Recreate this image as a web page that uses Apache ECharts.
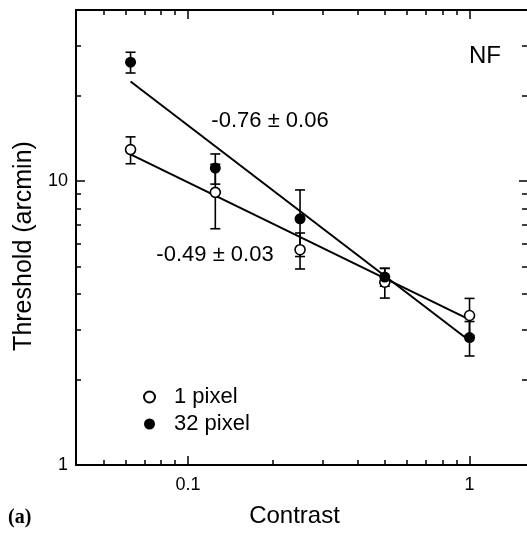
<!DOCTYPE html>
<html>
<head>
<meta charset="utf-8">
<script src="https://cdn.jsdelivr.net/npm/echarts@6/dist/echarts.min.js"></script>
<style>
  html, body { margin: 0; padding: 0; background: #fff; }
  #chart { width: 527px; height: 533px; }
</style>
</head>
<body>
<div id="chart"></div>
<script>
// data
const contrast = [0.0625, 0.125, 0.25, 0.5, 1];
const thrOpen = [12.9, 9.12, 5.73, 4.40, 3.36];     // 1 pixel
const errOpen = [1.4, 2.33, 0.83, 0.53, 0.5];
const thrFilled = [26.2, 11.1, 7.36, 4.59, 2.81];   // 32 pixel
const errFilled = [2.2, 1.35, 1.94, 0.33, 0.39];

// fitted power-law lines (end points)
const fitContrast = [0.0625, 1];
const fitOpen = [12.4, 3.25];
const fitFilled = [22.4, 2.74];

// axis ticks
const xRange = [0.04, 1.6];
const yRange = [1, 40];
const xMajor = [0.1, 1];
const xMinor = [0.05, 0.06, 0.07, 0.08, 0.09, 0.2, 0.3, 0.4, 0.5, 0.6, 0.7, 0.8, 0.9];
const yMajor = [1, 10];
const yMinor = [2, 3, 4, 5, 6, 7, 8, 9, 20, 30];

const FONT = "'Liberation Sans', Arial, Helvetica, sans-serif";
const lg = Math.log10;

// tick-only axes work in log10 space, same extent as the log data axes
function tickAxis(pos, range, vals, len, opts) {
  const a = {
    type: "value",
    position: pos,
    min: lg(range[0]),
    max: lg(range[1]),
    axisLine: { show: !!opts.line, onZero: false, lineStyle: { color: "#000", width: 2 } },
    axisTick: { show: true, inside: true, length: len, customValues: vals.map(lg),
                lineStyle: { color: "#000", width: 1.5 } },
    axisLabel: { show: false },
    splitLine: { show: false }
  };
  if (opts.labels) {
    a.axisLabel = {
      show: true,
      customValues: vals.map(lg),
      margin: opts.margin,
      color: "#000",
      fontSize: 18,
      fontFamily: FONT,
      formatter: v => String(+Math.pow(10, v).toPrecision(3))
    };
  }
  if (opts.name) Object.assign(a, opts.name);
  return a;
}

function errData(y, e) {
  return contrast.map((c, i) => [c, y[i] - e[i], y[i] + e[i]]);
}

function renderErr(params, api) {
  const x = api.value(0);
  const p1 = api.coord([x, api.value(2)]);
  const p2 = api.coord([x, api.value(1)]);
  const w = 5;
  const style = { stroke: "#000", lineWidth: 1.6 };
  return {
    type: "group",
    children: [
      { type: "line", shape: { x1: p1[0], y1: p1[1], x2: p2[0], y2: p2[1] }, style },
      { type: "line", shape: { x1: p1[0] - w, y1: p1[1], x2: p1[0] + w, y2: p1[1] }, style },
      { type: "line", shape: { x1: p2[0] - w, y1: p2[1], x2: p2[0] + w, y2: p2[1] }, style }
    ]
  };
}

const chart = echarts.init(document.getElementById("chart"));

const option = {
  animation: false,
  backgroundColor: "#fff",
  grid: { left: 76, top: 10, width: 452, height: 456 },
  xAxis: [
    { type: "log", min: xRange[0], max: xRange[1], show: false },
    tickAxis("bottom", xRange, xMajor, 9, {
      line: true, labels: true, margin: 11,
      name: {
        name: "Contrast", nameLocation: "middle", nameGap: 39,
        nameTextStyle: { fontSize: 24, fontFamily: FONT, color: "#000", padding: [0, 14, 0, 0] }
      }
    }),
    tickAxis("bottom", xRange, xMinor, 5, {}),
    tickAxis("top", xRange, xMajor, 9, { line: true }),
    tickAxis("top", xRange, xMinor, 5, {})
  ],
  yAxis: [
    { type: "log", min: yRange[0], max: yRange[1], show: false },
    tickAxis("left", yRange, yMajor, 9, {
      line: true, labels: true, margin: 8,
      name: {
        name: "Threshold (arcmin)", nameLocation: "middle", nameGap: 39,
        nameTextStyle: { fontSize: 25, fontFamily: FONT, color: "#000", padding: [0, 17, 0, 0] }
      }
    }),
    tickAxis("left", yRange, yMinor, 5, {}),
    tickAxis("right", yRange, yMajor, 8, {}),
    tickAxis("right", yRange, yMinor, 5, {})
  ],
  legend: {
    orient: "vertical",
    left: 138,
    top: 381,
    itemWidth: 11,
    itemHeight: 11,
    itemGap: 5,
    data: ["1 pixel", "32 pixel"],
    textStyle: { fontSize: 22, fontFamily: FONT, color: "#000", padding: [0, 0, 0, 14], lineHeight: 22 }
  },
  graphic: [
    { type: "text", x: 485, y: 56, style: { text: "NF", fontSize: 24, fontFamily: FONT, fill: "#000", align: "center", verticalAlign: "middle" } },
    { type: "text", x: 270, y: 121, style: { text: "-0.76 \u00b1 0.06", fontSize: 22, fontFamily: FONT, fill: "#000", align: "center", verticalAlign: "middle" } },
    { type: "text", x: 215, y: 255, style: { text: "-0.49 \u00b1 0.03", fontSize: 22, fontFamily: FONT, fill: "#000", align: "center", verticalAlign: "middle" } },
    { type: "text", x: 8, y: 518, style: { text: "(a)", font: "bold 20px 'Liberation Serif', 'Times New Roman', serif", fill: "#000", align: "left", verticalAlign: "middle" } }
  ],
  series: [
    {
      name: "err 1 pixel", type: "custom", xAxisIndex: 0, yAxisIndex: 0,
      renderItem: renderErr, encode: { x: 0, y: [1, 2] }, data: errData(thrOpen, errOpen), z: 2
    },
    {
      name: "err 32 pixel", type: "custom", xAxisIndex: 0, yAxisIndex: 0,
      renderItem: renderErr, encode: { x: 0, y: [1, 2] }, data: errData(thrFilled, errFilled), z: 2
    },
    {
      name: "fit 1 pixel", type: "line", xAxisIndex: 0, yAxisIndex: 0, symbol: "none",
      lineStyle: { color: "#000", width: 2 }, z: 3,
      data: fitContrast.map((c, i) => [c, fitOpen[i]])
    },
    {
      name: "fit 32 pixel", type: "line", xAxisIndex: 0, yAxisIndex: 0, symbol: "none",
      lineStyle: { color: "#000", width: 2 }, z: 3,
      data: fitContrast.map((c, i) => [c, fitFilled[i]])
    },
    {
      name: "1 pixel", type: "scatter", xAxisIndex: 0, yAxisIndex: 0, symbol: "circle", symbolSize: 10,
      itemStyle: { color: "#fff", borderColor: "#000", borderWidth: 1.6, opacity: 1 }, z: 4,
      data: contrast.map((c, i) => [c, thrOpen[i]])
    },
    {
      name: "32 pixel", type: "scatter", xAxisIndex: 0, yAxisIndex: 0, symbol: "circle", symbolSize: 11,
      itemStyle: { color: "#000", opacity: 1 }, z: 4,
      data: contrast.map((c, i) => [c, thrFilled[i]])
    }
  ]
};

chart.setOption(option);
</script>
</body>
</html>
